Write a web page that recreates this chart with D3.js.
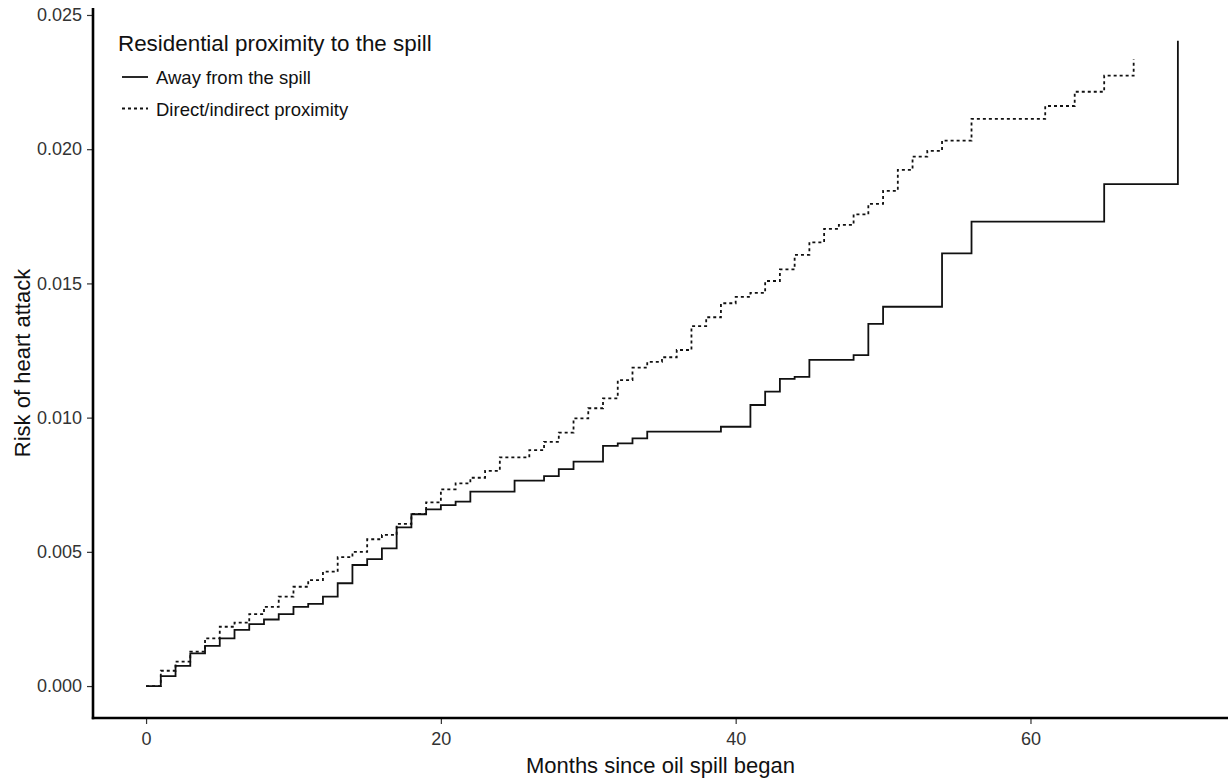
<!DOCTYPE html>
<html>
<head>
<meta charset="utf-8">
<script src="https://cdn.jsdelivr.net/npm/d3@7"></script>
<style>
  body { margin: 0; background: #fff; }
  svg { font-family: "Liberation Sans", Arial, sans-serif; }
</style>
</head>
<body>
<svg id="chart" width="1231" height="782"></svg>
<script>
// months where each curve steps up, and the cumulative risk after the step
var awayMonths = [0, 1, 2, 3, 4, 5, 6, 7, 8, 9, 10, 11, 12, 13, 14, 15, 16, 17, 18, 19, 20, 21, 22, 25, 27, 28, 29, 31, 32, 33, 34, 39, 41, 42, 43, 44, 45, 48, 49, 50, 54, 56, 65, 70]
var awayRisk = [0, 0.00037, 0.00075, 0.00122, 0.0015, 0.00178, 0.00209, 0.00231, 0.00248, 0.00268, 0.00295, 0.00306, 0.00333, 0.00383, 0.00451, 0.00473, 0.00513, 0.00591, 0.0064, 0.00658, 0.00674, 0.00687, 0.00724, 0.00765, 0.00782, 0.00808, 0.00836, 0.00895, 0.00904, 0.00923, 0.00948, 0.00966, 0.01047, 0.01097, 0.01144, 0.01152, 0.01215, 0.01233, 0.01349, 0.01413, 0.01612, 0.0173, 0.0187, 0.02404]

var nearMonths = [0, 1, 2, 3, 4, 5, 6, 7, 8, 9, 10, 11, 12, 13, 14, 15, 16, 17, 18, 19, 20, 21, 22, 23, 24, 26, 27, 28, 29, 30, 31, 32, 33, 34, 35, 36, 37, 38, 39, 40, 41, 42, 43, 44, 45, 46, 47, 48, 49, 50, 51, 52, 53, 54, 56, 61, 63, 65, 67]
var nearRisk = [0, 0.00057, 0.00091, 0.00128, 0.00178, 0.00221, 0.00236, 0.00268, 0.00295, 0.00333, 0.0037, 0.00395, 0.00426, 0.0048, 0.005, 0.00547, 0.00563, 0.00604, 0.00641, 0.00684, 0.00733, 0.00755, 0.00776, 0.00802, 0.00852, 0.00879, 0.0091, 0.00944, 0.00997, 0.01035, 0.01072, 0.0114, 0.01186, 0.01208, 0.01225, 0.01252, 0.01341, 0.01374, 0.01426, 0.0145, 0.01465, 0.01509, 0.01552, 0.01606, 0.01653, 0.01703, 0.01718, 0.01757, 0.01796, 0.01845, 0.01923, 0.01972, 0.01994, 0.02032, 0.02113, 0.02161, 0.02214, 0.02274, 0.02335]

var xTicks = [0, 20, 40, 60]
var yTicks = [0, 0.005, 0.010, 0.015, 0.020, 0.025]
var groupNames = ["Away from the spill", "Direct/indirect proximity"]
var legendTitle = "Residential proximity to the spill"

var svg = d3.select("#chart")
var plotLeft = 93, plotTop = 8, plotRight = 1228, plotBottom = 718

var x = d3.scaleLinear().domain([-3.6, 73.4]).range([plotLeft, plotRight])
var y = d3.scaleLinear().domain([-0.00119, 0.02526]).range([plotBottom, plotTop])

var series = [
    { name: groupNames[0], dash: null, points: awayMonths.map((m, i) => [m, awayRisk[i]]) },
    { name: groupNames[1], dash: "3,3", points: nearMonths.map((m, i) => [m, nearRisk[i]]) }
]

var line = d3.line()
    .x(d => x(d[0]))
    .y(d => y(d[1]))
    .curve(d3.curveStepAfter)

svg.append("g")
    .selectAll("path")
    .data(series)
    .enter().append("path")
    .attr("d", d => line(d.points))
    .attr("fill", "none")
    .attr("stroke", "#111")
    .attr("stroke-width", 1.8)
    .attr("stroke-dasharray", d => d.dash)

// axes, ggplot classic look
svg.append("g")
    .attr("transform", "translate(0," + plotBottom + ")")
    .call(d3.axisBottom(x).tickValues(xTicks).tickSize(6).tickPadding(8).tickFormat(d3.format("d")))

svg.append("g")
    .attr("transform", "translate(" + plotLeft + ",0)")
    .call(d3.axisLeft(y).tickValues(yTicks).tickSize(6).tickPadding(5).tickFormat(d3.format(".3f")))

svg.selectAll(".domain").remove()
svg.selectAll(".tick line").attr("stroke", "#333").attr("stroke-width", 1.2)
svg.selectAll(".tick text").attr("fill", "#333").style("font-size", "18px")

svg.append("line")
    .attr("x1", plotLeft).attr("x2", plotLeft)
    .attr("y1", plotTop).attr("y2", plotBottom + 1.2)
    .attr("stroke", "#000").attr("stroke-width", 2.6)

svg.append("line")
    .attr("x1", plotLeft - 1.2).attr("x2", plotRight)
    .attr("y1", plotBottom).attr("y2", plotBottom)
    .attr("stroke", "#000").attr("stroke-width", 2.6)

svg.append("text")
    .attr("x", (plotLeft + plotRight) / 2)
    .attr("y", 773)
    .attr("text-anchor", "middle")
    .style("font-size", "22px")
    .attr("fill", "#111")
    .text("Months since oil spill began")

svg.append("text")
    .attr("transform", "translate(30," + (plotTop + plotBottom) / 2 + ") rotate(-90)")
    .attr("text-anchor", "middle")
    .style("font-size", "22px")
    .attr("fill", "#111")
    .text("Risk of heart attack")

// legend
var legend = svg.append("g").attr("class", "legend")

legend.append("text")
    .attr("x", 118)
    .attr("y", 51)
    .style("font-size", "22.4px")
    .attr("fill", "#111")
    .text(legendTitle)

var rows = legend.selectAll("g.row")
    .data(series)
    .enter().append("g")
    .attr("class", "row")
    .attr("transform", (d, i) => "translate(0," + (77 + i * 31.5) + ")")

rows.append("line")
    .attr("x1", 122).attr("x2", 148)
    .attr("y1", 0).attr("y2", 0)
    .attr("stroke", "#111")
    .attr("stroke-width", 1.8)
    .attr("stroke-dasharray", d => d.dash)

rows.append("text")
    .attr("x", 156)
    .attr("y", 7)
    .style("font-size", "18.5px")
    .attr("fill", "#111")
    .text(d => d.name)
</script>
</body>
</html>
